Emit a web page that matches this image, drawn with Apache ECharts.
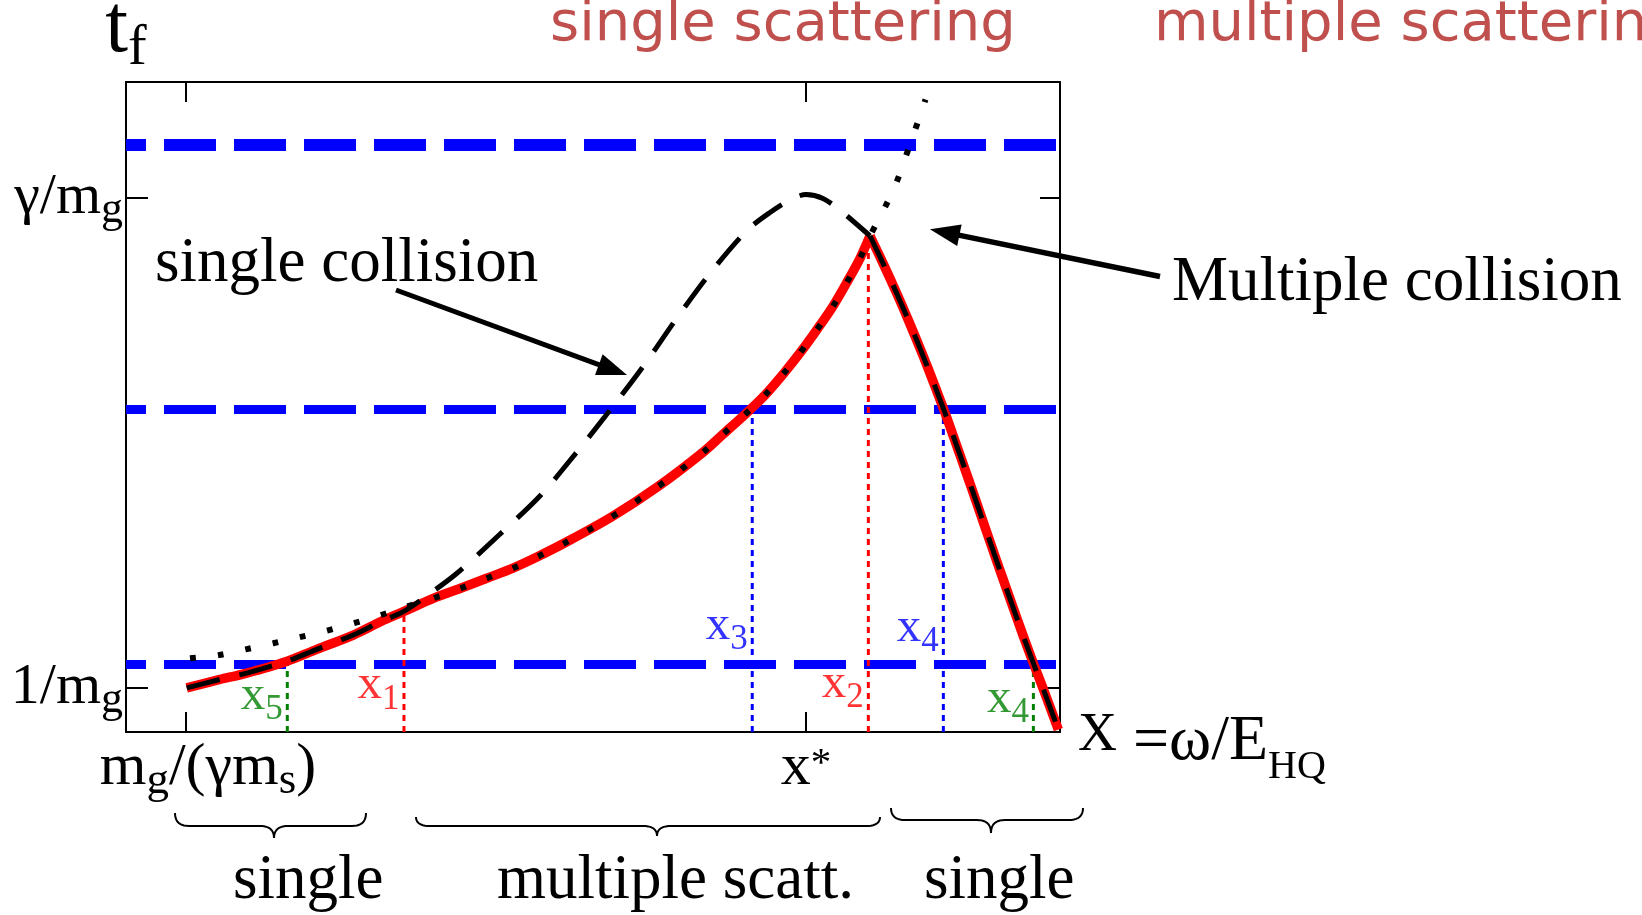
<!DOCTYPE html>
<html>
<head>
<meta charset="utf-8">
<title>Formation time t_f versus ω/E_HQ</title>
<script src="https://cdn.jsdelivr.net/npm/echarts@6.0.0/dist/echarts.min.js"></script>
<style>
  html, body { margin: 0; padding: 0; background: #ffffff; }
  #chart { width: 1642px; height: 915px; }
</style>
</head>
<body>
<div id="chart"></div>
<script>
// ---------------- data (arbitrary units: X = ω/E_HQ and t_f both span 0..100 in the frame) ----------------
const xTickValues = [6.42, 72.8];
const xTickLabels = ['m_g/(γm_s)', 'x^*'];
const yTickValues = [6.88, 82.26];
const yTickLabels = ['1/m_g', 'γ/m_g'];
const yAxisName = 't_f';

// single-collision formation time (black dashed)
const singleX = [6.5, 10.06, 12.82, 17.10, 20.42, 24.34, 27.30, 29.69, 32.33, 35.43, 39.94, 44.34, 48.23, 51.87, 55.45,
  58.87, 62.53, 66.45, 68.95, 71.27, 72.80, 74.62, 76.53, 79.66,
  81.08, 82.52, 83.76, 84.83, 85.90, 87.15, 88.04, 90.58, 93.22, 94.65, 96.07, 96.97, 98.21, 99.82];
const singleY = [6.8, 8.08, 9.03, 10.82, 12.72, 14.92, 17.0, 18.51, 21.08, 24.42, 30.31, 36.34, 43.0, 49.6, 56.4,
  63.46, 70.56, 77.11, 79.92, 81.98, 82.69, 82.08, 80.18, 76.31,
  72.02, 67.48, 63.37, 59.68, 55.83, 51.15, 47.71, 37.32, 26.31, 20.48, 14.75, 11.26, 6.62, 0.38];

// multiple-collision formation time (black dotted)
const multiX = [6.85, 9.96, 12.82, 15.77, 18.55, 21.49, 24.34, 27.30, 29.69, 32.90, 35.83, 38.62, 41.37, 44.11, 46.90,
  52.02, 56.94, 61.85, 63.95, 66.27, 68.42, 70.37, 72.16, 73.95, 75.66, 77.16, 78.59, 79.66, 81.26, 82.52, 83.51,
  84.51, 85.60];
const multiY = [11.34, 11.85, 12.72, 13.65, 14.57, 15.58, 16.72, 18.0, 19.15, 20.57, 22.11, 23.65, 25.18, 27.0, 29.03,
  33.12, 37.74, 43.12, 45.85, 48.85, 51.85, 55.08, 58.31, 61.85, 65.43, 69.12, 72.88, 76.31, 80.72, 84.66, 88.62,
  92.72, 97.3];

// effective formation time (red)
const effX = [6.5, 10.06, 12.82, 17.10, 20.42, 24.34, 27.30, 29.69, 32.90, 35.83, 38.62, 41.37, 44.11, 46.90, 52.02,
  56.94, 61.85, 63.95, 66.27, 68.42, 70.37, 72.16, 73.95, 75.66, 77.16, 78.59, 79.66,
  81.08, 82.52, 83.76, 84.83, 85.90, 87.15, 88.04, 90.58, 93.22, 94.65, 96.07, 96.97, 98.21, 99.82];
const effY = [6.8, 8.08, 9.03, 10.82, 12.72, 14.92, 17.0, 18.51, 20.57, 22.11, 23.65, 25.18, 27.0, 29.03, 33.12,
  37.74, 43.12, 45.85, 48.85, 51.85, 55.08, 58.31, 61.85, 65.43, 69.12, 72.88, 76.31,
  72.02, 67.48, 63.37, 59.68, 55.83, 51.15, 47.71, 37.32, 26.31, 20.48, 14.75, 11.26, 6.62, 0.38];

// horizontal reference levels (blue dashed)
const levelY = [10.4, 49.6, 90.3];

// crossing points x1..x5
const crossNames = ['x_5', 'x_1', 'x_3', 'x_2', 'x_4', 'x_4'];
const crossX = [17.27, 29.76, 67.05, 79.48, 87.51, 97.15];
const crossTop = [10.4, 18.5, 49.6, 76.3, 49.6, 10.4];

// ---------------- styling / layout ----------------
const SERIF = '"Liberation Serif", "Times New Roman", serif';
const crossColors = ['#008000', '#ff0000', '#0000ff', '#ff0000', '#0000ff', '#008000'];
const crossLabelY = [5.57, 7.15, 16.34, 7.42, 16.03, 5.11];
const accent = '#c0504d';

// turn 'm_g/(γm_s)' style strings into ECharts rich-text markup
function toRich(str, base, sub, sup) {
  let out = '', buf = '';
  const flush = () => { if (buf) { out += '{' + base + '|' + buf + '}'; buf = ''; } };
  for (let i = 0; i < str.length; i++) {
    const c = str[i];
    if (c === '_' || c === '^') {
      flush();
      let s;
      if (str[i + 1] === '{') { const j = str.indexOf('}', i); s = str.slice(i + 2, j); i = j; }
      else { s = str[i + 1]; i++; }
      out += '{' + (c === '_' ? sub : sup) + '|' + s + '}';
    } else buf += c;
  }
  flush();
  return out;
}
function nearestIndex(arr, v) {
  let best = 0;
  arr.forEach((a, i) => { if (Math.abs(a - v) < Math.abs(arr[best] - v)) best = i; });
  return best;
}
const zip = (xs, ys) => xs.map((x, i) => [x, ys[i]]);
// the curves have a corner where the regimes meet; split there so each piece can be smoothed
const cornerX = 79.66;
const upTo = (xs, ys) => zip(xs, ys).filter(p => p[0] <= cornerX);
const from = (xs, ys) => zip(xs, ys).filter(p => p[0] >= cornerX);

const tickRich = {
  b: { fontSize: 60, fontFamily: SERIF, color: '#000', lineHeight: 60 },
  s: { fontSize: 45, fontFamily: SERIF, color: '#000', padding: [26, 0, 0, 0], lineHeight: 60 },
  p: { fontSize: 41, fontFamily: SERIF, color: '#000', padding: [0, 0, 7, 0], lineHeight: 60 },
  gap: { width: 44, lineHeight: 60 }
};
const yTickRich = {
  b: { fontSize: 58, fontFamily: SERIF, color: '#000' },
  s: { fontSize: 44, fontFamily: SERIF, color: '#000', padding: [26, 0, 0, 0] }
};

const series = [];

levelY.forEach((v, i) => series.push({
  type: 'line', data: [[0, v], [100, v]], symbol: 'none', silent: true, animation: false, z: 2,
  lineStyle: { color: '#0000ff', width: i === levelY.length - 1 ? 12 : 9, type: [52, 18], dashOffset: 32, cap: 'butt' }
}));

crossX.forEach((x, i) => series.push({
  type: 'line', data: [[x, 0], [x, crossTop[i]]], symbol: 'none', silent: true, animation: false, z: 3,
  lineStyle: { color: crossColors[i], width: 3, type: [6, 5], cap: 'butt' }
}));

series.push({
  type: 'scatter', symbolSize: 1, silent: true, animation: false, z: 4,
  itemStyle: { color: 'rgba(0,0,0,0)' },
  data: crossX.map((x, i) => ({ value: [x, crossLabelY[i]], name: crossNames[i], label: { color: crossColors[i] } })),
  label: {
    show: true, position: 'left', distance: 4,
    formatter: p => toRich(p.name, 'x', 'n', 'n'),
    rich: {
      x: { fontSize: 49, fontFamily: SERIF },
      n: { fontSize: 35, fontFamily: SERIF, padding: [29, 0, 0, 0] }
    }
  }
});

const curveBase = { type: 'line', symbol: 'none', silent: true, animation: false, clip: false, smooth: 0.3 };
const redStyle = { color: '#ff0000', width: 9.5, cap: 'butt', join: 'round' };
const dashStyle = { color: '#000000', width: 5, type: [34, 20], cap: 'butt' };
const dotStyle = { color: '#000000', width: 6, type: [6, 22], cap: 'butt' };

series.push(Object.assign({ name: 'effective', data: upTo(effX, effY), z: 5, lineStyle: redStyle }, curveBase));
series.push(Object.assign({ name: 'effective', data: from(effX, effY), z: 5, lineStyle: redStyle }, curveBase));
series.push(Object.assign({ name: 'single collision', data: upTo(singleX, singleY), z: 6, lineStyle: dashStyle }, curveBase));
series.push(Object.assign({ name: 'single collision', data: from(singleX, singleY), z: 6, lineStyle: dashStyle }, curveBase));
series.push(Object.assign({ name: 'multiple collision', data: zip(multiX, multiY), z: 7, lineStyle: dotStyle }, curveBase));

// ---------------- annotations ----------------
function arrow(x1, y1, x2, y2, w, headLen, headW) {
  const dx = x2 - x1, dy = y2 - y1, L = Math.hypot(dx, dy), ux = dx / L, uy = dy / L;
  const bx = x2 - ux * headLen, by = y2 - uy * headLen, px = -uy, py = ux;
  return [
    { type: 'line', silent: true, shape: { x1, y1, x2: bx + ux * 2, y2: by + uy * 2 }, style: { stroke: '#000', lineWidth: w } },
    { type: 'polygon', silent: true, shape: { points: [[x2, y2], [bx + px * headW / 2, by + py * headW / 2], [bx - px * headW / 2, by - py * headW / 2]] }, style: { fill: '#000' } }
  ];
}
// curly brace drawn as a polyline of sampled quadratic curves
function quad(p0, c, p1, n) {
  const pts = [];
  for (let k = 1; k <= n; k++) {
    const t = k / n, a = (1 - t) * (1 - t), b = 2 * (1 - t) * t, d = t * t;
    pts.push([a * p0[0] + b * c[0] + d * p1[0], a * p0[1] + b * c[1] + d * p1[1]]);
  }
  return pts;
}
function brace(x0, x1, xt, yT, yM, yB, r) {
  let pts = [[x0, yT]];
  pts = pts.concat(quad([x0, yT], [x0, yM], [x0 + r, yM], 10));
  pts.push([xt - r, yM]);
  pts = pts.concat(quad([xt - r, yM], [xt, yM], [xt, yB], 10));
  pts = pts.concat(quad([xt, yB], [xt, yM], [xt + r, yM], 10));
  pts.push([x1 - r, yM]);
  pts = pts.concat(quad([x1 - r, yM], [x1, yM], [x1, yT], 10));
  return { type: 'polyline', silent: true, shape: { points: pts }, style: { stroke: '#000', lineWidth: 2, fill: null } };
}
function label(text, x, y, size, family, color) {
  return { type: 'text', silent: true, x, y, style: { text, fontSize: size, fontFamily: family, fill: color, align: 'left', verticalAlign: 'middle' } };
}

const graphic = [
  label('single scattering', 550, 25, 56, '"DejaVu Sans", sans-serif', accent),
  label('multiple scattering', 1154, 25, 56, '"DejaVu Sans", sans-serif', accent),
  label('single collision', 155, 264, 63, SERIF, '#000'),
  label('Multiple collision', 1172, 283, 63, SERIF, '#000'),
  label('single', 233, 881, 63, SERIF, '#000'),
  label('multiple scatt.', 497, 881, 63, SERIF, '#000'),
  label('single', 924, 881, 63, SERIF, '#000'),
  ...arrow(396, 290, 627, 375, 5, 30, 22),
  ...arrow(1160, 276.5, 930, 229.3, 5.5, 30, 22),
  brace(175, 366, 274, 813, 826, 838, 14),
  brace(416, 880, 657, 817, 826, 836, 14),
  brace(891, 1083, 991, 808, 820, 833, 14)
];

const frameLine = { show: true, onZero: false, lineStyle: { color: '#000', width: 2 } };

const option = {
  backgroundColor: '#ffffff',
  animation: false,
  grid: { left: 126, top: 82, width: 934, height: 650, containLabel: false, outerBoundsMode: 'none' },
  xAxis: [
    {
      type: 'value', min: 0, max: 100, position: 'bottom',
      axisLine: frameLine, splitLine: { show: false },
      axisTick: { show: true, inside: true, length: 20, customValues: xTickValues, lineStyle: { color: '#000', width: 2 } },
      axisLabel: {
        show: true, margin: 6, customValues: xTickValues,
        formatter: v => {
          const i = nearestIndex(xTickValues, v);
          return (i === 0 ? '{gap| }' : '') + toRich(xTickLabels[i], 'b', 's', 'p');
        },
        rich: tickRich
      },
      name: '{X|X}{e| =ω/E}{h|HQ}', nameLocation: 'end', nameGap: 18,
      nameTextStyle: {
        padding: [20, 0, 0, 0],
        rich: {
          X: { fontSize: 54, fontFamily: SERIF, color: '#000', padding: [0, 0, 12, 0] },
          e: { fontSize: 64, fontFamily: SERIF, color: '#000' },
          h: { fontSize: 40, fontFamily: SERIF, color: '#000', padding: [50, 0, 0, 0] }
        }
      }
    },
    {
      type: 'value', min: 0, max: 100, position: 'top',
      axisLine: frameLine, splitLine: { show: false }, axisLabel: { show: false },
      axisTick: { show: true, inside: true, length: 20, customValues: xTickValues, lineStyle: { color: '#000', width: 2 } }
    }
  ],
  yAxis: [
    {
      type: 'value', min: 0, max: 100, position: 'left',
      axisLine: frameLine, splitLine: { show: false },
      axisTick: { show: true, inside: true, length: 22, customValues: yTickValues, lineStyle: { color: '#000', width: 2 } },
      axisLabel: {
        show: true, margin: 3, customValues: yTickValues,
        formatter: v => toRich(yTickLabels[nearestIndex(yTickValues, v)], 'b', 's', 's'),
        rich: yTickRich
      },
      name: toRich(yAxisName, 'b', 's', 's'), nameLocation: 'end', nameGap: 5,
      nameTextStyle: {
        rich: {
          b: { fontSize: 82, fontFamily: SERIF, color: '#000' },
          s: { fontSize: 56, fontFamily: SERIF, color: '#000', padding: [40, 0, 0, 0] }
        }
      }
    },
    {
      type: 'value', min: 0, max: 100, position: 'right',
      axisLine: frameLine, splitLine: { show: false }, axisLabel: { show: false },
      axisTick: { show: true, inside: true, length: 20, customValues: yTickValues, lineStyle: { color: '#000', width: 2 } }
    }
  ],
  series,
  graphic
};

const chart = echarts.init(document.getElementById('chart'), null, { renderer: 'canvas' });
chart.setOption(option);
</script>
</body>
</html>
